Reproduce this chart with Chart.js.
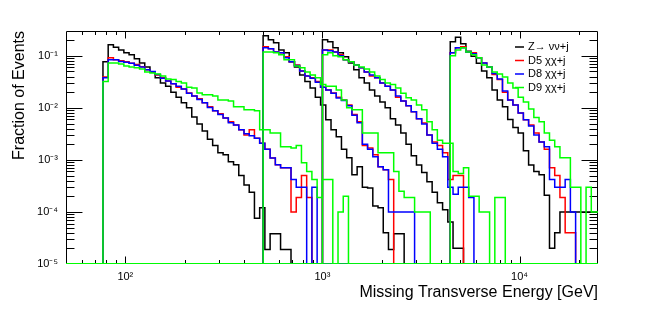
<!DOCTYPE html>
<html>
<head>
<meta charset="utf-8">
<script src="https://cdn.jsdelivr.net/npm/chart.js@4.4.0/dist/chart.umd.min.js"></script>
<style>
  html, body { margin: 0; padding: 0; background: #fff; }
</style>
</head>
<body>
<canvas id="metChart" width="664" height="311"></canvas>
<script>
// Lower edge [GeV] of the first bin of each MET selection, and the common bin width in log10(GeV)
const segmentStarts = [77, 500, 1000, 4450];
const binWidthLog = 0.0265;

// Fraction of events per bin, one array per sample and selection (0 = empty bin)
const zSeg1 = [0.077, 0.163, 0.146, 0.130, 0.114, 0.105, 0.088, 0.073, 0.061, 0.049, 0.038, 0.030, 0.026, 0.020, 0.016, 0.0125, 0.0100, 0.0067, 0.0049, 0.0036, 0.0025, 0.0019, 0.00137, 0.00125, 0.00092, 0.00081, 0.00050, 0.00033, 0.00024, 0.000076, 0.00012, 0.000019, 0.000038, 0.000038, 0.000019, 0.000019];
const d5Seg1 = [0.039, 0.092, 0.084, 0.080, 0.077, 0.072, 0.068, 0.062, 0.054, 0.049, 0.043, 0.038, 0.033, 0.029, 0.025, 0.023, 0.0194, 0.017, 0.0149, 0.0125, 0.0105, 0.0088, 0.0077, 0.0064, 0.0054, 0.0047, 0.0038, 0.0030, 0.0038, 0.0026, 0.0021, 0.0016, 0.00109, 0.00081, 0.00071, 0.00071, 0.0001, 0.00019, 0.0005, 0.00019];
const d8Seg1 = [0.038, 0.084, 0.084, 0.078, 0.075, 0.072, 0.066, 0.061, 0.054, 0.050, 0.044, 0.037, 0.033, 0.029, 0.026, 0.023, 0.019, 0.017, 0.0145, 0.0125, 0.0102, 0.0088, 0.0075, 0.0064, 0.0052, 0.0047, 0.0038, 0.0032, 0.0029, 0.0026, 0.0021, 0.0016, 0.00109, 0.00081, 0.00071, 0.00071, 0.00042, 0.0003, 0.0003, 0, 0.0003];
const d9Seg1 = [0.032, 0.073, 0.073, 0.070, 0.064, 0.061, 0.059, 0.056, 0.049, 0.047, 0.045, 0.041, 0.036, 0.035, 0.032, 0.030, 0.025, 0.024, 0.0194, 0.0178, 0.0178, 0.017, 0.0142, 0.0142, 0.0136, 0.0105, 0.0105, 0.0092, 0.0092, 0.0088, 0.0038, 0.0038, 0.0033, 0.0033, 0.0018, 0.0018, 0.0017, 0.0019, 0.00088, 0.0006, 0.00042, 0.00019, 0.00042, 0.00042, 0, 0.0001, 0.0002];

const zSeg2 = [0.242, 0.203, 0.178, 0.130, 0.114, 0.077, 0.061, 0.043, 0.032, 0.024, 0.016, 0.0114, 0.0059, 0.0038, 0.0028, 0.0016, 0.0011, 0.00052, 0.00074, 0.0003, 0.00029, 0.00013, 0.00012, 0.00004, 0.000019, 0.000038, 0.000038];
const d5Seg2 = [0.149, 0.137, 0.119, 0.114, 0.096, 0.077, 0.067, 0.051, 0.041, 0.038, 0.032, 0.025, 0.022, 0.0194, 0.016, 0.0142, 0.0114, 0.0075, 0.0054, 0.0019, 0.0017, 0.00125, 0.00074, 0.00065, 0.00042];
const d8Seg2 = [0.143, 0.137, 0.119, 0.114, 0.092, 0.077, 0.065, 0.051, 0.041, 0.037, 0.031, 0.025, 0.022, 0.019, 0.0155, 0.0138, 0.011, 0.0072, 0.0052, 0.0020, 0.0016, 0.00115, 0.00074, 0.00065, 0.0001, 0.0001, 0.0001, 0.0001, 0.0001];
const d9Seg2 = [0.119, 0.119, 0.114, 0.105, 0.084, 0.084, 0.064, 0.059, 0.049, 0.043, 0.038, 0.028, 0.026, 0.026, 0.022, 0.0142, 0.010, 0.0092, 0.0092, 0.0033, 0.0033, 0.0033, 0.00137, 0.00137, 0.00137, 0.0006, 0.00025, 0.00019, 0.00019, 0.0001, 0.0001, 0.0001];

const zSeg3 = [0.203, 0.186, 0.143, 0.114, 0.096, 0.073, 0.054, 0.038, 0.030, 0.022, 0.017, 0.013, 0.0100, 0.0062, 0.0047, 0.0033, 0.0020, 0.0012, 0.0008, 0.00057, 0.00038, 0.00024, 0.00015, 0.00011, 0.000064, 0.00002, 0.00002];
const d5Seg3 = [0.130, 0.130, 0.119, 0.105, 0.084, 0.077, 0.067, 0.059, 0.049, 0.041, 0.038, 0.030, 0.026, 0.022, 0.016, 0.0136, 0.011, 0.0084, 0.0062, 0.0051, 0.0030, 0.0022, 0.0019, 0.00137, 0.00042, 0.0005, 0.0005];
const d8Seg3 = [0.130, 0.125, 0.119, 0.100, 0.084, 0.077, 0.067, 0.059, 0.049, 0.043, 0.038, 0.030, 0.026, 0.022, 0.017, 0.0136, 0.011, 0.0084, 0.0062, 0.0049, 0.0030, 0.0021, 0.0016, 0.00115, 0.0003, 0.00022, 0.0003, 0.0003, 0.00019];
const d9Seg3 = [0.105, 0.114, 0.100, 0.096, 0.084, 0.077, 0.067, 0.061, 0.056, 0.049, 0.041, 0.035, 0.030, 0.028, 0.024, 0.019, 0.0156, 0.0142, 0.0114, 0.0092, 0.0054, 0.0038, 0.0024, 0.0021, 0.0021, 0.0006, 0.00055, 0.00071, 0.0002, 0.0002, 0.0001, 0.0001, 0, 0.00019, 0.00019];

const zSeg4 = [0.186, 0.228, 0.170, 0.122, 0.098, 0.072, 0.051, 0.038, 0.022, 0.0142, 0.0105, 0.006, 0.0042, 0.0033, 0.0015, 0.0008, 0.0006, 0.00052, 0.00021, 0.00002, 0.00004, 0.0001, 0.0001, 0.0001, 0.0001, 0.0001, 0.0001, 0.0001, 0.0001];
const d5Seg4 = [0.114, 0.143, 0.149, 0.119, 0.114, 0.092, 0.073, 0.061, 0.044, 0.035, 0.020, 0.0142, 0.0114, 0.008, 0.0059, 0.0047, 0.0033, 0.0022, 0.0016, 0.00071, 0.0005, 0.00019, 0.00004, 0.00004];
const d8Seg4 = [0.114, 0.143, 0.143, 0.119, 0.110, 0.092, 0.073, 0.061, 0.046, 0.036, 0.021, 0.0142, 0.0114, 0.008, 0.0059, 0.0045, 0.003, 0.0022, 0.0018, 0.00042, 0.0003, 0.0003, 0.00042, 0.0001];
const d9Seg4 = [0.100, 0.130, 0.143, 0.119, 0.105, 0.092, 0.067, 0.061, 0.049, 0.045, 0.039, 0.030, 0.024, 0.016, 0.013, 0.0095, 0.0065, 0.0054, 0.0033, 0.0024, 0.0018, 0.0011, 0.0011, 0.0003, 0.0003, 0, 0.0003, 0.0001, 0.0001];

const seriesLabels = ['Z\u2192 \u03bd\u03bd+j', 'D5 \u03c7\u03c7+j', 'D8 \u03c7\u03c7+j', 'D9 \u03c7\u03c7+j'];
const seriesColors = ['#000000', '#ff0000', '#0000ff', '#00ff00'];
const seriesSegments = [
    [zSeg1, zSeg2, zSeg3, zSeg4],
    [d5Seg1, d5Seg2, d5Seg3, d5Seg4],
    [d8Seg1, d8Seg2, d8Seg3, d8Seg4],
    [d9Seg1, d9Seg2, d9Seg3, d9Seg4]
];

const xTickLabels = {100: '10\u00b2', 1000: '10\u00b3', 10000: '10\u2074'};
const yTickLabels = {0.1: '10\u207b\u00b9', 0.01: '10\u207b\u00b2', 0.001: '10\u207b\u00b3', 0.0001: '10\u207b\u2074', 0.00001: '10\u207b\u2075'};

const X_MIN = 50, X_MAX = 25000, Y_MIN = 1e-5, Y_MAX = 0.3;
const FONT = "'Liberation Sans', Arial, Helvetica, sans-serif";

// Turn one histogram into step points: empty bins and the range outside sit on the axis floor
function histPoints(start, values) {
    const pts = [{x: X_MIN, y: Y_MIN}];
    values.forEach((v, i) => {
        pts.push({x: start * Math.pow(10, i * binWidthLog), y: v > 0 ? v : Y_MIN});
    });
    const end = start * Math.pow(10, values.length * binWidthLog);
    pts.push({x: end, y: Y_MIN});
    if (end < X_MAX) pts.push({x: X_MAX, y: Y_MIN});
    return pts;
}

const datasets = [];
seriesSegments.forEach((segs, s) => {
    segs.forEach((vals, k) => {
        datasets.push({
            label: seriesLabels[s],
            data: histPoints(segmentStarts[k], vals),
            borderColor: seriesColors[s],
            borderWidth: 1.5,
            stepped: 'before',
            pointRadius: 0,
            fill: false,
            order: 3 - s
        });
    });
});

// all 1..9 x 10^n values inside a log range
function logTicks(min, max) {
    const out = [];
    for (let e = Math.floor(Math.log10(min)); e <= Math.ceil(Math.log10(max)); e++) {
        for (let m = 1; m <= 9; m++) {
            const v = m * Math.pow(10, e);
            if (v > min * 1.0001 && v < max * 0.9999) out.push({v: v, major: m === 1});
        }
    }
    return out;
}

// ROOT style frame with inward ticks on all four sides
const rootFrame = {
    id: 'rootFrame',
    beforeDatasetsDraw(chart) {
        const {ctx, chartArea: a, scales: {x, y}} = chart;
        const L = Math.round(a.left) + 0.5, R = Math.round(a.right) - 0.5;
        const T = Math.round(a.top) + 0.5, B = Math.round(a.bottom) - 0.5;
        const xLen = 0.03 * (a.bottom - a.top), yLen = 0.03 * (a.right - a.left);
        ctx.save();
        ctx.strokeStyle = '#000';
        ctx.lineWidth = 1;
        ctx.beginPath();
        logTicks(X_MIN, X_MAX).forEach(t => {
            const px = Math.round(x.getPixelForValue(t.v)) + 0.5;
            const len = t.major ? xLen : xLen / 2;
            ctx.moveTo(px, B); ctx.lineTo(px, B - len);
            ctx.moveTo(px, T); ctx.lineTo(px, T + len);
        });
        logTicks(Y_MIN, Y_MAX).forEach(t => {
            const py = Math.round(y.getPixelForValue(t.v)) + 0.5;
            const len = t.major ? yLen : yLen / 2;
            ctx.moveTo(L, py); ctx.lineTo(L + len, py);
            ctx.moveTo(R, py); ctx.lineTo(R - len, py);
        });
        ctx.rect(L, T, R - L, B - T);
        ctx.stroke();
        ctx.restore();
    }
};

// Legend without box, inside the upper right of the frame
const rootLegend = {
    id: 'rootLegend',
    afterDraw(chart) {
        const {ctx, chartArea: a} = chart;
        ctx.save();
        ctx.font = '11px ' + FONT;
        ctx.textBaseline = 'middle';
        seriesLabels.forEach((label, i) => {
            const yy = a.top + 16 + i * 13.5;
            ctx.strokeStyle = seriesColors[i];
            ctx.lineWidth = 1.5;
            ctx.beginPath();
            ctx.moveTo(a.right - 83, yy);
            ctx.lineTo(a.right - 74, yy);
            ctx.stroke();
            ctx.fillStyle = '#000';
            ctx.fillText(label, a.right - 70, yy);
        });
        ctx.restore();
    }
};

const metChart = new Chart(document.getElementById('metChart').getContext('2d'), {
    type: 'line',
    data: { datasets: datasets },
    options: {
        responsive: false,
        animation: false,
        devicePixelRatio: 1,
        layout: { padding: { top: 31, right: 66, left: 0, bottom: 0 } },
        plugins: {
            legend: { display: false },
            tooltip: { enabled: false }
        },
        scales: {
            x: {
                type: 'logarithmic',
                min: X_MIN,
                max: X_MAX,
                grid: { display: false, drawTicks: false },
                border: { display: false },
                afterBuildTicks: function(scale) {
                    scale.ticks = Object.keys(xTickLabels).map(v => ({value: Number(v)}));
                },
                afterFit: function(scale) { scale.height = 47; },
                ticks: {
                    autoSkip: false,
                    maxRotation: 0,
                    padding: 6,
                    color: '#000',
                    font: { family: FONT, size: 11 },
                    callback: function(value) { return xTickLabels[value] || ''; }
                },
                title: {
                    display: true,
                    text: 'Missing Transverse Energy [GeV]',
                    align: 'end',
                    color: '#000',
                    font: { family: FONT, size: 16 },
                    padding: { top: 0, bottom: 9 }
                }
            },
            y: {
                type: 'logarithmic',
                min: Y_MIN,
                max: Y_MAX,
                grid: { display: false, drawTicks: false },
                border: { display: false },
                afterBuildTicks: function(scale) {
                    scale.ticks = Object.keys(yTickLabels).map(v => ({value: Number(v)}));
                },
                afterFit: function(scale) { scale.width = 66; },
                ticks: {
                    autoSkip: false,
                    padding: 8,
                    color: '#000',
                    font: { family: FONT, size: 11 },
                    callback: function(value) { return yTickLabels[value] || ''; }
                },
                title: {
                    display: true,
                    text: 'Fraction of Events',
                    align: 'end',
                    color: '#000',
                    font: { family: FONT, size: 16 },
                    padding: { top: 10, bottom: 0 }
                }
            }
        }
    },
    plugins: [rootFrame, rootLegend]
});
</script>
</body>
</html>
